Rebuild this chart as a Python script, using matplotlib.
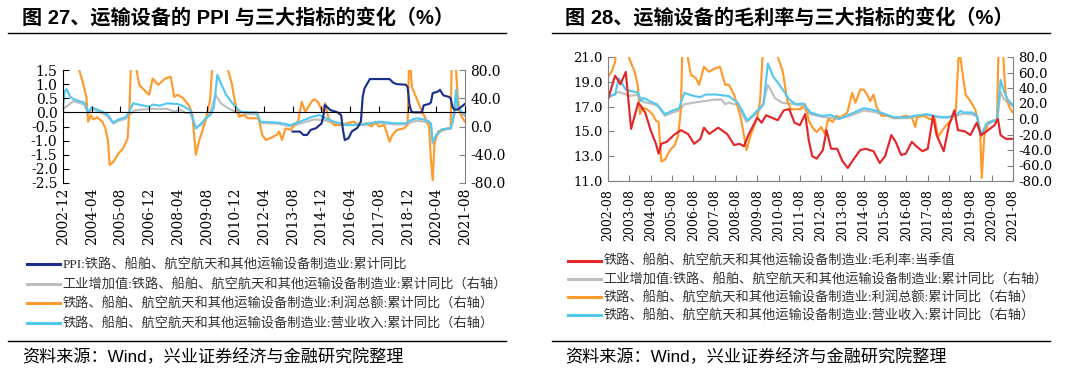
import matplotlib
matplotlib.use("Agg")
import matplotlib.pyplot as plt
from matplotlib.lines import Line2D
from matplotlib.ticker import FormatStrFormatter, MultipleLocator
from matplotlib.font_manager import FontProperties
import pandas as pd

plt.rcParams["axes.unicode_minus"] = False

CJK = "Noto Sans CJK SC"
NUM_FONT = "DejaVu Serif"

COLORS = {
    "navy": "#1B2F8E",
    "gray": "#BFBFBF",
    "orange": "#FF9A2E",
    "sky": "#55C8F0",
    "red": "#E3262A",
    "spine": "#808080",
}
LW = 1.55

# ---------------- left panel: months since 2002-12 ----------------
L_START = "2002-12"
L_TICKS = ["2002-12", "2004-04", "2005-08", "2006-12", "2008-04", "2009-08",
           "2010-12", "2012-04", "2013-08", "2014-12", "2016-04", "2017-08",
           "2018-12", "2020-04", "2021-08"]

ppi_m = [128, 132, 134, 136, 138, 141, 143, 144, 145, 146, 149, 153, 155, 156, 157,
         159, 161, 164, 166, 167, 168, 171, 182, 184, 186, 191, 192, 193, 194, 195,
         200, 201, 204, 205, 206, 209, 210, 212, 215, 216, 217, 218, 220, 222, 224]
ppi_v = [-0.68, -0.68, -0.80, -0.80, -0.62, -0.56, -0.45, -0.40, -0.15, 0.26, 0.08, 0.00, -0.10, -0.62, -0.98,
         -0.92, -0.67, -0.55, -0.32, 0.56, 0.85, 1.18, 1.18, 1.05, 1.00, 0.98, 0.90, 0.30, 0.05, 0.00,
         0.00, 0.25, 0.30, 0.35, 0.68, 0.74, 0.80, 0.60, 0.55, 0.50, 0.20, 0.10, 0.10, 0.20, 0.30]

lva_m = [0, 6, 12, 14, 16, 22, 25, 28, 31, 35, 38, 40, 49, 58, 62, 65, 68, 71, 74, 78,
         82, 85, 88, 92, 96, 99, 103, 108, 110, 120, 127, 132, 140, 145, 151, 158, 167, 176, 185, 191,
         194, 197, 201, 204, 205, 206, 208, 211, 216, 218, 219, 220, 222, 224]
lva_v = [25, 36, 31, 18, 25, 19, 14, 4, 8, 11, 19, 23, 25, 25, 21, 24, 19.6, 18.6, -1, 3,
         19.6, 44.6, 32.8, 25.8, 21, 16.3, 18, 17, 5, 4, 0, 4, 10, 9, 5, 2, 2, 5, 3, 3,
         6, 8, 7, 5, 3, -24, -14, -5, -3, 15, 35, 25, 18, 15]

lprf_m = [0, 1, 3, 6, 8, 9, 11, 13, 14, 15.5, 17, 19, 22, 23.6, 25, 26, 28, 31, 33.5, 36,
          37, 38, 40, 41, 42.5, 47, 48, 50, 53, 57, 60, 62, 64, 67, 70, 72, 74, 76, 79, 82,
          83, 85, 90, 92, 94, 96, 98, 101, 103, 109, 111, 113, 115, 119, 120.5, 122, 124, 127, 129.5, 131,
          133, 135, 138.5, 140, 142, 144.6, 146, 148, 151, 155, 158, 162, 165, 169, 172, 174, 176, 179, 182, 183.5,
          186, 190, 192, 193, 194.4, 197, 200, 202.5, 204, 205, 206, 207, 209, 212, 214, 216, 216.7, 218.5, 219, 220,
          221, 222, 223, 224]
lprf_v = [78, 100, 110, 100, 85, 80, 63, 42, 6.8, 16, 10, 13, 6.8, -2.6, -19, -54.5, -50, -38, -31, -17,
          23, 100, 100, 80, 59, 47, 45, 68, 59, 68, 70.5, 42, 45, 40, 30.5, 18.7, -40, -19, 4.5, 37.5,
          80, 110, 110, 80, 61, 33, 14, 16, 11.6, 11.6, -12, -19, -17, -12, -7, -19, -2.6, -5, 4.5, 6.8,
          35, 21, 35, 38.5, 35, 21, 33, 11.6, 2, 2, 4.5, 6.8, 2, 4.5, 0, 6.8, 0, 2, -21.5, -12,
          -5, -2.6, 2, 110, 56, 40, 21, 9, 0, -47, -76, -24, -7, -5, -2.6, -2.6, 110, 110, 80, 40,
          20, 15, 10, 7]

lrev_m = [0, 1, 2, 4, 6, 9, 12, 14, 16, 19, 22, 25, 28, 31, 35, 37, 39, 45, 48, 50,
          54, 58, 64, 67, 69, 71, 74, 77, 80, 82, 84, 86, 88, 91, 93, 96, 99, 103, 108, 110,
          120, 127, 132, 139, 143, 145, 151, 158, 167, 176, 185, 191, 194, 197, 201, 204, 205, 206, 208, 211,
          216, 217, 218, 219, 220, 222, 224]
lrev_v = [28, 50, 53, 42, 38.5, 36, 33.7, 19.6, 27, 24, 21, 16.3, 5.4, 10, 13, 21, 32.8, 29.5, 28, 31,
          29.5, 32.8, 31.8, 29, 25.8, 23, -3, 4.5, 13, 16, 25.8, 73, 61, 44.6, 37.5, 28, 21, 20, 20, 6.8,
          5.4, 2, 6.8, 13.9, 16.3, 13, 6.8, 2, 3, 6.8, 4.5, 4.5, 9.2, 11.6, 10, 6.8, 4, -22, -12, -4,
          -2.6, 5, 23, 52, 28, 21, 17]

# ---------------- right panel: months since 2002-08 ----------------
R_START = "2002-08"
R_TICKS = ["2002-08", "2003-08", "2004-08", "2005-08", "2006-08", "2007-08", "2008-08",
           "2009-08", "2010-08", "2011-08", "2012-08", "2013-08", "2014-08", "2015-08",
           "2016-08", "2017-08", "2018-08", "2019-08", "2020-08", "2021-08"]

rgm_m = [0, 4, 7, 10, 13, 17, 18.5, 21, 24, 27, 28.5, 30, 33, 37, 41, 45, 48.5, 52, 54, 57,
         62, 67, 71, 74, 76.5, 79, 84, 86.5, 89, 95.6, 99, 102, 105, 108, 111, 113, 115, 117.5, 121, 123,
         125.6, 129, 132, 135, 138, 142, 145, 149.5, 153, 156, 159.5, 162, 165, 167.6, 171, 174, 177, 180, 183, 185,
         189, 192, 195, 197, 201, 204, 207.6, 210, 214, 217.6, 219.5, 221, 224, 228]
rgm_v = [17.6, 19.5, 18.8, 19.8, 15.2, 17.3, 17.05, 16.5, 15.1, 14.0, 13.2, 14.0, 14.15, 14.7, 15.1, 14.8, 14.0, 14.4, 15.3, 14.8,
         15.3, 14.8, 13.9, 14.0, 13.8, 14.7, 16.1, 15.7, 16.3, 15.9, 16.7, 16.8, 15.7, 15.5, 16.4, 14.3, 13.0, 12.8, 13.5, 15.1,
         13.6, 13.6, 12.6, 12.05, 12.7, 13.5, 13.6, 13.4, 12.45, 13.0, 14.7, 14.15, 13.1, 13.2, 14.15, 13.75, 13.4, 13.6, 16.25, 14.7,
         13.4, 15.5, 16.7, 15.1, 15.0, 14.7, 15.7, 14.7, 15.1, 15.5, 16.0, 14.7, 14.4, 14.4]

rva_m = [0, 6, 12, 17, 20, 24, 28, 32, 36, 40, 43, 48, 54, 60, 64, 66, 68, 73, 78, 83,
         87, 90, 94, 98, 102, 108, 114, 120, 130, 136, 144, 150, 156, 161, 168, 173, 180, 186, 191, 196,
         200, 205, 208, 210, 213, 217, 219, 221, 223, 228]
rva_v = [27, 35, 30, 31, 22, 20, 17, 4, 8, 11, 19, 21, 23, 25, 25, 19, 21, 18, -4, 6,
         17, 44, 27, 21, 20, 18, 6, 3, 0, 4, 11, 9, 5, 1, 1, 3, 5, 2, 2, 4,
         7, 6, 3, -24, -8, -3, -3, 35, 25, 16]

rprf_m = [0, 2, 4, 5, 11, 12, 15, 16.7, 18, 19.5, 22, 25, 27, 28.5, 30, 32, 35, 37.6, 39.5, 41,
          42, 44, 45, 46.7, 49.5, 51.3, 54, 56.7, 60.4, 63, 66, 68, 71, 74.7, 78, 80, 84, 85.6, 87, 88,
          94, 95.6, 98.4, 101, 103, 108.4, 111, 113, 115.6, 117.5, 120, 122, 124, 126.5, 128.4, 131, 134.7, 137.5, 139.3, 142,
          144, 145.8, 147.6, 149.5, 151.3, 154, 157.6, 161, 164, 167.6, 171, 173, 174, 177.6, 181, 184, 185.8, 189.5, 193, 195.8,
          197.3, 198.2, 199.5, 201.3, 204, 206.7, 209.5, 210.4, 211.8, 214, 217.6, 219, 220, 222, 223, 224, 226, 228]
rprf_v = [54.7, 61, 73.7, 100, 100, 78, 61, 44, 6.3, 14.7, 12.6, 6.3, -2.1, -4.2, -54.7, -52.6, -40, -33.7, -21, 10.5,
          100, 100, 78, 56.8, 52.6, 44.2, 67.4, 61, 65.3, 67.4, 44.2, 44.2, 31.6, 2.1, -40, -23, 2, 23, 80, 110,
          110, 80, 61, 23, 12.6, 12.6, 19, -2, -12.6, -16.8, -10.5, -19, 0, -4, 4, 2, 8.4, 33.7, 21, 38,
          37.9, 31.6, 23, 31.6, 14.7, 4.2, 4.2, 2, 2, 4.2, 2, -10.5, 2, 4.2, 0, 0, -23, -10.5, -2, 10.5,
          78, 82, 61, 31.6, 23, 12.6, -15, -76, -23, -4.2, -2, 0, 110, 110, 60, 30, 15, 8]

rrev_m = [0, 4, 6, 10, 17, 18.5, 20, 24, 27.6, 32, 36, 40, 43, 48.5, 52, 55, 61, 68, 73, 75.6,
          78.4, 83, 87.5, 90, 93, 96.5, 99, 102, 105.6, 110, 114, 120, 125.6, 130, 136.5, 144, 150, 156, 161, 168,
          173, 179.5, 186, 191, 196, 198.5, 200, 205, 207.6, 210, 213, 216.7, 219, 221, 223, 225, 228]
rrev_v = [29.5, 31.6, 52.6, 37.9, 33.7, 23.2, 27.4, 22.3, 19, 6.3, 10.5, 13.9, 33.7, 29.5, 28.2, 31.6, 31.6, 29.5, 21, 10.5,
          -2.1, 8.4, 19, 71.6, 54.7, 44.2, 35.8, 25.3, 19, 19.8, 8.4, 4.2, 5, 0, 6.3, 14, 11.4, 6.3, 2.1, 2.1,
          4.2, 6.3, 2.9, 2.1, 5.5, 10.5, 8.4, 8.4, 4.2, -21, -6.3, -2.1, -2.1, 50.5, 35.8, 25, 18]

SERIES_VA = "工业增加值:铁路、船舶、航空航天和其他运输设备制造业:累计同比（右轴）"
SERIES_PRF = "铁路、船舶、航空航天和其他运输设备制造业:利润总额:累计同比（右轴）"
SERIES_REV = "铁路、船舶、航空航天和其他运输设备制造业:营业收入:累计同比（右轴）"
L_LABELS = ["PPI:铁路、船舶、航空航天和其他运输设备制造业:累计同比",
            SERIES_VA, SERIES_PRF, SERIES_REV]
R_LABELS = ["铁路、船舶、航空航天和其他运输设备制造业:毛利率:当季值",
            SERIES_VA, SERIES_PRF, SERIES_REV]

TITLE_L = "图 27、运输设备的 PPI 与三大指标的变化（%）"
TITLE_R = "图 28、运输设备的毛利率与三大指标的变化（%）"
SOURCE = "资料来源：Wind，兴业证券经济与金融研究院整理"

W, H = 1080, 381


def px_rect(x0, y0, x1, y1):
    """Pixel box (from top-left) to figure fraction rect."""
    return [x0 / W, 1 - y1 / H, (x1 - x0) / W, (y1 - y0) / H]


def month_pos(labels, start):
    p0 = pd.Period(start, "M")
    return [(pd.Period(s, "M") - p0).n for s in labels]


def style_num_labels(ax, size):
    for lab in ax.get_xticklabels() + ax.get_yticklabels():
        lab.set_fontfamily(NUM_FONT)
        lab.set_fontsize(size)


fig = plt.figure(figsize=(W / 100, H / 100), dpi=100)
fig.patch.set_facecolor("white")

# ---------------- left chart ----------------
ax1 = fig.add_axes(px_rect(63, 70, 465, 183))
ax1r = ax1.twinx()

# x axis sits on the left-axis zero line (must be set before ticks/labels)
ax1.spines["bottom"].set_position(("data", 0))
ax1.spines["bottom"].set_color("black")
ax1.spines["left"].set_color("black")
ax1.spines["top"].set_visible(False)
ax1.spines["right"].set_visible(False)
for s in ["top", "left", "bottom"]:
    ax1r.spines[s].set_visible(False)
ax1r.spines["right"].set_color(COLORS["spine"])

ax1r.plot(lva_m, lva_v, color=COLORS["gray"], lw=LW)
ax1r.plot(lprf_m, lprf_v, color=COLORS["orange"], lw=LW)
ax1r.plot(lrev_m, lrev_v, color=COLORS["sky"], lw=LW)
ax1.plot(ppi_m, ppi_v, color=COLORS["navy"], lw=LW)
ax1.set_zorder(ax1r.get_zorder() + 1)
ax1.patch.set_visible(False)

ax1.set_xlim(0, month_pos(["2021-08"], L_START)[0])
ax1.set_ylim(-2.5, 1.5)
ax1.yaxis.set_major_locator(MultipleLocator(0.5))
ax1.yaxis.set_major_formatter(FormatStrFormatter("%.1f"))
ax1r.set_ylim(-80, 80)
ax1r.set_yticks([-80, -40, 0, 40, 80])
ax1r.yaxis.set_major_formatter(FormatStrFormatter("%.1f"))
ax1.set_xticks(month_pos(L_TICKS, L_START))
ax1.set_xticklabels(L_TICKS)

ax1.tick_params(axis="y", direction="in", length=4, pad=4)
ax1.tick_params(axis="x", direction="in", length=4, pad=54, labelrotation=90)
ax1r.tick_params(axis="y", direction="in", length=4, color=COLORS["spine"], pad=4)
style_num_labels(ax1, 10)
style_num_labels(ax1r, 10)

# ---------------- right chart ----------------
ax2 = fig.add_axes(px_rect(608, 57, 1013, 181))
ax2r = ax2.twinx()

ax2.spines["top"].set_visible(False)
ax2.spines["right"].set_visible(False)
ax2.spines["left"].set_color(COLORS["spine"])
ax2.spines["bottom"].set_color(COLORS["spine"])
for s in ["top", "left", "bottom"]:
    ax2r.spines[s].set_visible(False)
ax2r.spines["right"].set_color(COLORS["spine"])

ax2r.plot(rva_m, rva_v, color=COLORS["gray"], lw=LW)
ax2r.plot(rprf_m, rprf_v, color=COLORS["orange"], lw=LW)
ax2r.plot(rrev_m, rrev_v, color=COLORS["sky"], lw=LW)
ax2.plot(rgm_m, rgm_v, color=COLORS["red"], lw=LW)
ax2.set_zorder(ax2r.get_zorder() + 1)
ax2.patch.set_visible(False)

ax2.set_xlim(0, month_pos(["2021-08"], R_START)[0])
ax2.set_ylim(11, 21)
ax2.set_yticks([11, 13, 15, 17, 19, 21])
ax2.yaxis.set_major_formatter(FormatStrFormatter("%.1f"))
ax2r.set_ylim(-80, 80)
ax2r.yaxis.set_major_locator(MultipleLocator(20))
ax2r.yaxis.set_major_formatter(FormatStrFormatter("%.1f"))
ax2.set_xticks(month_pos(R_TICKS, R_START))
ax2.set_xticklabels(R_TICKS)

ax2.tick_params(axis="both", direction="in", length=4, color=COLORS["spine"], pad=4)
ax2.tick_params(axis="x", pad=6, labelrotation=90)
ax2r.tick_params(axis="y", direction="in", length=4, color=COLORS["spine"], pad=4)
style_num_labels(ax2, 9.5)
style_num_labels(ax2r, 9.5)
for lab in ax2.get_xticklabels():
    lab.set_fontsize(9)

# ---------------- legends ----------------
leg_font = FontProperties(family=["Liberation Serif", CJK], size=9.5)


def add_legend(colors, labels, x, y, spacing):
    handles = [Line2D([], [], color=c, lw=2.2) for c in colors]
    fig.legend(handles, labels, loc="upper left",
               bbox_to_anchor=(x / W, 1 - y / H), frameon=False, prop=leg_font,
               handlelength=2.5, handletextpad=0.2, labelspacing=spacing,
               borderpad=0, borderaxespad=0, labelcolor="#333333")


add_legend([COLORS["navy"], COLORS["gray"], COLORS["orange"], COLORS["sky"]],
           L_LABELS, 27, 259, 0.48)
add_legend([COLORS["red"], COLORS["gray"], COLORS["orange"], COLORS["sky"]],
           R_LABELS, 568, 255, 0.38)

# ---------------- titles, rules and source notes ----------------
for x_txt, x0, x1, title in [(22, 8, 506, TITLE_L), (565, 552, 1050, TITLE_R)]:
    fig.text(x_txt / W, 1 - 18 / H, title, fontsize=14.5, fontweight="bold",
             family=["Liberation Sans", CJK], va="center", ha="left")
    for y in (33, 341):
        fig.add_artist(Line2D([x0 / W, x1 / W], [1 - y / H, 1 - y / H],
                              color="black", lw=1.0))
    fig.text(x_txt / W, 1 - 357 / H, SOURCE, fontsize=12.3,
             family=["Liberation Sans", CJK], va="center", ha="left")

fig.savefig("out.png", dpi=100, facecolor="white")
